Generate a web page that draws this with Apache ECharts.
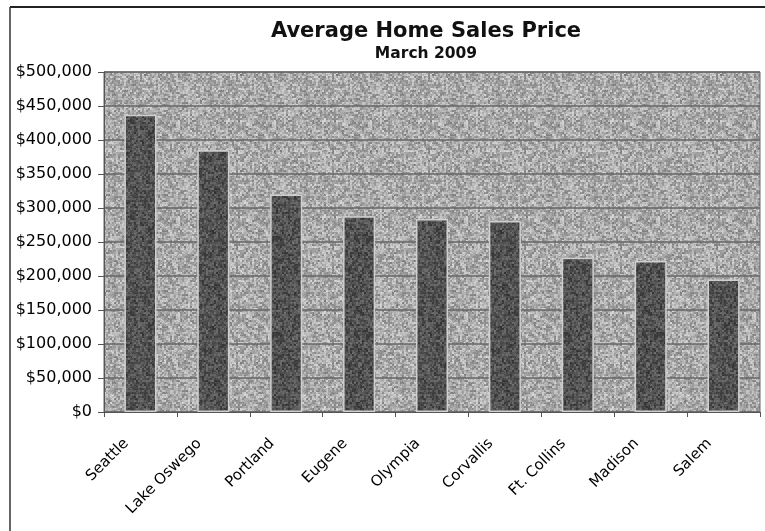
<!DOCTYPE html>
<html><head><meta charset="utf-8">
<script src="https://cdn.jsdelivr.net/npm/echarts@6/dist/echarts.min.js"></script>
<style>html,body{margin:0;padding:0;background:#fff}#c{width:765px;height:531px}</style>
</head><body><div id="c"></div>
<script>
const categories = ["Seattle","Lake Oswego","Portland","Eugene","Olympia","Corvallis","Ft. Collins","Madison","Salem"];
const prices = [437000,385000,320000,288000,284000,281000,227000,222000,195000];
const yTicks = [0,50000,100000,150000,200000,250000,300000,350000,400000,450000,500000];

// deterministic granite-like texture (decoration only, not data)
function makeTexture(base, spread, seed){
  const n = 96, c = document.createElement('canvas'); c.width = n; c.height = n;
  const ctx = c.getContext('2d');
  let s = seed;
  const rnd = () => { s = (s * 1103515245 + 12345) & 0x7fffffff; return s / 0x7fffffff; };
  const img = ctx.createImageData(n, n);
  for (let y = 0; y < n; y += 2){
    for (let x = 0; x < n; x += 2){
      const v = Math.max(0, Math.min(255, base + (rnd() - 0.5) * spread));
      for (let dy = 0; dy < 2; dy++) for (let dx = 0; dx < 2; dx++){
        const j = ((y+dy)*n + (x+dx)) * 4;
        const w = v + (rnd() - 0.5) * spread * 0.4;
        img.data[j] = w; img.data[j+1] = w; img.data[j+2] = w; img.data[j+3] = 255;
      }
    }
  }
  ctx.putImageData(img, 0, 0);
  return c;
}
const bgTex = makeTexture(170, 75, 7);
const barTex = makeTexture(82, 55, 11);

const chart = echarts.init(document.getElementById('c'));
const fmt = v => '$' + v.toLocaleString('en-US');
chart.setOption({
  animation:false,
  backgroundColor:'#fff',
  title:{
    text:'Average Home Sales Price', subtext:'March 2009',
    left:421, top:16, textAlign:'center', itemGap:4,
    textStyle:{fontFamily:'DejaVu Sans', fontWeight:'bold', fontSize:21, color:'#111'},
    subtextStyle:{fontFamily:'DejaVu Sans', fontWeight:'bold', fontSize:15.5, color:'#111'}
  },
  graphic:[
    {type:'line', shape:{x1:10,y1:7,x2:765,y2:7}, style:{stroke:'#222', lineWidth:2}},
    {type:'line', shape:{x1:10,y1:7,x2:10,y2:531}, style:{stroke:'#333', lineWidth:1.5}}
  ],
  grid:{left:104, right:5, top:72, bottom:119, show:true, backgroundColor:{image:bgTex, repeat:'repeat'}, borderColor:'#666', borderWidth:1},
  xAxis:{
    type:'category', data:categories,
    axisLine:{lineStyle:{color:'#555'}},
    axisTick:{show:true, length:5, lineStyle:{color:'#555'}},
    axisLabel:{rotate:45, fontFamily:'DejaVu Sans', fontSize:15, color:'#000', margin:15, padding:[0,20,0,0]}
  },
  yAxis:{
    type:'value', min:0, max:500000, interval:50000,
    axisLine:{show:true, lineStyle:{color:'#555'}},
    axisTick:{show:true, length:6, lineStyle:{color:'#555'}},
    axisLabel:{fontFamily:'DejaVu Sans', fontSize:16, color:'#000', margin:12, formatter: v => yTicks.includes(v) ? fmt(v) : ''},
    splitLine:{show:true, lineStyle:{color:'#666', width:1.5}}
  },
  series:[{
    type:'bar', data:prices, barWidth:'44%',
    itemStyle:{color:{image:barTex, repeat:'repeat'}, borderColor:'#cfcfcf', borderWidth:1.5}
  }]
});
</script></body></html>
